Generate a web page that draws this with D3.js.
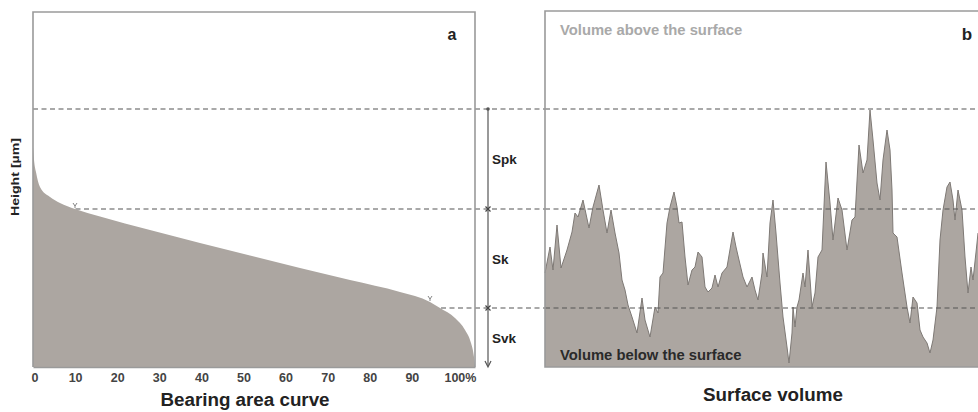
<!DOCTYPE html>
<html>
<head>
<meta charset="utf-8">
<script src="https://cdn.jsdelivr.net/npm/d3@7/dist/d3.min.js"></script>
<style>
  html, body { margin: 0; padding: 0; background: #fff; }
  svg { display: block; font-family: "Liberation Sans", Arial, sans-serif; }
</style>
</head>
<body>
<svg id="chart" width="978" height="412"></svg>
<script>
// Bearing area (Abbott-Firestone) curve: bearing ratio [%] vs height [µm]
const bearingRatio = [0, 0.24, 0.71, 1.66, 4.04, 6.41, 9.98, 15.92, 27.79, 39.67, 51.55, 63.43, 75.31, 87.18, 94.31, 96.69, 100.25, 102.63, 104.05, 104.76, 105];
const bearingHeight = [4.4, 4.14, 3.9, 3.6, 3.4, 3.28, 3.16, 3.01, 2.74, 2.48, 2.23, 1.98, 1.74, 1.50, 1.30, 1.18, 0.98, 0.74, 0.48, 0.20, 0];

// Surface profile: position along the trace [µm] and height [µm]
const profilePos = [0, 10, 16, 24, 32, 44, 54, 60, 66, 76, 88, 96, 108, 116, 124, 132, 140, 148, 154, 160,
  166, 174, 184, 194, 200, 210, 220, 226, 230, 236, 244, 250, 258, 264, 268, 274, 280, 286, 294, 300,
  306, 314, 320, 326, 334, 340, 346, 354, 364, 376, 382, 388, 396, 404, 414, 420, 426, 434, 436, 444,
  450, 456, 462, 470, 476, 484, 488, 494, 496, 500, 504, 508, 516, 520, 526, 534, 540, 546, 554, 562,
  570, 576, 586, 594, 604, 614, 620, 628, 636, 644, 650, 656, 664, 670, 676, 684, 690, 694, 696, 704,
  714, 724, 730, 736, 744, 750, 756, 764, 770, 776, 784, 790, 796, 804, 810, 816, 820, 826, 834, 840,
  846, 852, 856, 864, 866];
const profileHeight = [1.88, 2.40, 1.94, 2.84, 1.98, 2.34, 2.70, 3.08, 3.00, 3.34, 2.78, 3.20, 3.64, 3.14, 2.68, 3.14, 2.68, 2.28, 1.74, 1.54,
  1.24, 1.00, 0.68, 1.38, 0.94, 0.60, 1.20, 1.08, 1.80, 1.88, 2.88, 3.20, 3.50, 3.20, 2.88, 2.90, 2.20, 1.64, 1.94, 2.00,
  2.30, 2.20, 1.60, 1.50, 1.58, 1.84, 1.60, 1.88, 2.00, 2.70, 2.40, 2.14, 1.80, 1.60, 1.80, 1.54, 1.34, 1.88, 2.28, 1.80,
  2.88, 3.34, 2.68, 1.68, 1.00, 0.40, 0.08, 0.68, 1.20, 0.80, 1.20, 1.34, 1.88, 1.60, 2.34, 1.20, 1.48, 2.20, 2.34, 4.10,
  3.28, 2.54, 3.38, 3.14, 2.34, 2.94, 3.00, 4.44, 3.88, 4.14, 5.14, 4.54, 3.68, 3.34, 4.14, 4.74, 4.34, 3.54, 2.68, 2.60,
  1.88, 1.20, 0.88, 1.40, 1.28, 0.74, 0.60, 0.48, 0.28, 0.54, 1.20, 2.54, 3.14, 3.60, 3.70, 3.34, 2.94, 3.54, 3.14, 2.20,
  1.48, 2.00, 1.74, 2.48, 2.68];

// Functional levels (Spk / Sk / Svk boundaries) [µm]
const levelNames = ["Spk", "Sk", "Svk"];
const levelTops = [5.16, 3.16, 1.18];
const levelBottoms = [3.16, 1.18, 0];
const ratioTicks = [0, 10, 20, 30, 40, 50, 60, 70, 80, 90, 100];

const svg = d3.select("#chart");
const fillCol = "#aca6a1";
const frameCol = "#9a9a9a";
const dashCol = "#555";

const y = d3.scaleLinear().domain([0, 7.1]).range([367, 12]);
const xa = d3.scaleLinear().domain([0, 105]).range([33, 475]);
const xb = d3.scaleLinear().domain([0, 866]).range([545, 978]);

// dashed level lines (left part sits under the bearing fill)
const levels = [levelTops[0], levelTops[1], levelTops[2]];
svg.append("g").selectAll("line").data(levels).join("line")
  .attr("x1", 33).attr("x2", 545)
  .attr("y1", d => y(d)).attr("y2", d => y(d))
  .attr("stroke", dashCol).attr("stroke-width", 1.2).attr("stroke-dasharray", "5,3.5");

// panel a: bearing area curve
const bearing = bearingRatio.map((r, i) => ({ r, h: bearingHeight[i] }));
svg.append("path").datum(bearing)
  .attr("fill", fillCol)
  .attr("d", d3.area().x(d => xa(d.r)).y0(y(0)).y1(d => y(d.h)).curve(d3.curveMonotoneX));

// small markers where the Sk line meets the curve
[[9.98, 3.16], [94.31, 1.3]].forEach(([r, h]) => {
  const cx = xa(r), cy = y(h) - 4;
  svg.append("path")
    .attr("d", `M${cx - 2},${cy - 2} L${cx},${cy + 1} L${cx + 2},${cy - 2} M${cx},${cy + 1} L${cx},${cy + 3}`)
    .attr("stroke", "#666").attr("stroke-width", 0.8).attr("fill", "none");
});

// panel a frame and axis
svg.append("path")
  .attr("d", `M${xa(0)},${y(0)} V12 H${xa(105)} V${y(0)}`)
  .attr("fill", "none").attr("stroke", frameCol).attr("stroke-width", 1.6);

const axis = d3.axisBottom(xa).tickValues(ratioTicks).tickSize(0).tickPadding(6)
  .tickFormat(d => d === 100 ? "100%" : d);
const gAxis = svg.append("g").attr("transform", `translate(0,${y(0)})`).call(axis);
gAxis.select(".domain").attr("stroke", frameCol).attr("stroke-width", 1.6);
gAxis.selectAll("text")
  .attr("font-size", 12.5).attr("font-weight", "bold").attr("fill", "#444")
  .attr("font-family", "Liberation Sans, Arial, sans-serif");
gAxis.selectAll("text").filter(d => d === 100).attr("dx", 6);
gAxis.selectAll("text").filter(d => d === 0).attr("dx", 1.5);

svg.append("text").text("a")
  .attr("x", 452).attr("y", 40).attr("text-anchor", "middle")
  .attr("font-size", 16).attr("font-weight", "bold").attr("fill", "#222");

svg.append("text").text("Bearing area curve")
  .attr("x", 245).attr("y", 406).attr("text-anchor", "middle")
  .attr("font-size", 18.8).attr("font-weight", "bold").attr("fill", "#222");

svg.append("text").text("Height [µm]")
  .attr("transform", `translate(19,177) rotate(-90)`)
  .attr("text-anchor", "middle")
  .attr("font-size", 10.5).attr("font-weight", "bold").attr("fill", "#222")
  .attr("textLength", 78).attr("lengthAdjust", "spacingAndGlyphs");

// dimension line between the panels
const dimX = 488;
svg.append("line")
  .attr("x1", dimX).attr("x2", dimX).attr("y1", y(levelTops[0])).attr("y2", y(0) - 1)
  .attr("stroke", "#555").attr("stroke-width", 1.2);
svg.append("path")
  .attr("d", `M${dimX - 3},${y(0) - 6} L${dimX},${y(0)} L${dimX + 3},${y(0) - 6}`)
  .attr("fill", "none").attr("stroke", "#555").attr("stroke-width", 1.2);
svg.append("circle").attr("cx", dimX).attr("cy", y(levelTops[0])).attr("r", 1.8).attr("fill", "#555");
[levelTops[1], levelTops[2]].forEach(h => {
  svg.append("path")
    .attr("d", `M${dimX - 2.5},${y(h) - 2.5} L${dimX + 2.5},${y(h) + 2.5} M${dimX + 2.5},${y(h) - 2.5} L${dimX - 2.5},${y(h) + 2.5}`)
    .attr("stroke", "#444").attr("stroke-width", 1.2);
});
svg.append("g").selectAll("text").data(levelNames).join("text")
  .text(d => d)
  .attr("x", 492)
  .attr("y", (d, i) => (y(levelTops[i]) + y(levelBottoms[i])) / 2 + 5)
  .attr("font-size", 13.5).attr("font-weight", "bold").attr("fill", "#222");

// panel b: surface profile
const profile = profilePos.map((p, i) => ({ p, h: profileHeight[i] }));
svg.append("path").datum(profile)
  .attr("fill", fillCol)
  .attr("d", d3.area().x(d => xb(d.p)).y0(y(0)).y1(d => y(d.h)));
svg.append("path").datum(profile)
  .attr("fill", "none").attr("stroke", "#7e7975").attr("stroke-width", 1)
  .attr("d", d3.line().x(d => xb(d.p)).y(d => y(d.h)));

// dashed level lines drawn over the profile
svg.append("g").selectAll("line").data(levels).join("line")
  .attr("x1", 545).attr("x2", 978)
  .attr("y1", d => y(d)).attr("y2", d => y(d))
  .attr("stroke", dashCol).attr("stroke-width", 1.2).attr("stroke-dasharray", "5,3.5");

// panel b frame (right edge runs off the page)
svg.append("path")
  .attr("d", `M990,${y(0)} H545 V11 H990`)
  .attr("fill", "none").attr("stroke", frameCol).attr("stroke-width", 1.6);

svg.append("text").text("Volume above the surface")
  .attr("x", 560).attr("y", 35)
  .attr("font-size", 14.8).attr("font-weight", "bold").attr("fill", "#a9a9a9");
svg.append("text").text("Volume below the surface")
  .attr("x", 560).attr("y", 360)
  .attr("font-size", 14.8).attr("fill", "#2a2a2a").attr("font-weight", "bold");
svg.append("text").text("b")
  .attr("x", 967).attr("y", 40).attr("text-anchor", "middle")
  .attr("font-size", 17).attr("font-weight", "bold").attr("fill", "#222");
svg.append("text").text("Surface volume")
  .attr("x", 773).attr("y", 401).attr("text-anchor", "middle")
  .attr("font-size", 18.8).attr("font-weight", "bold").attr("fill", "#222");
</script>
</body>
</html>
